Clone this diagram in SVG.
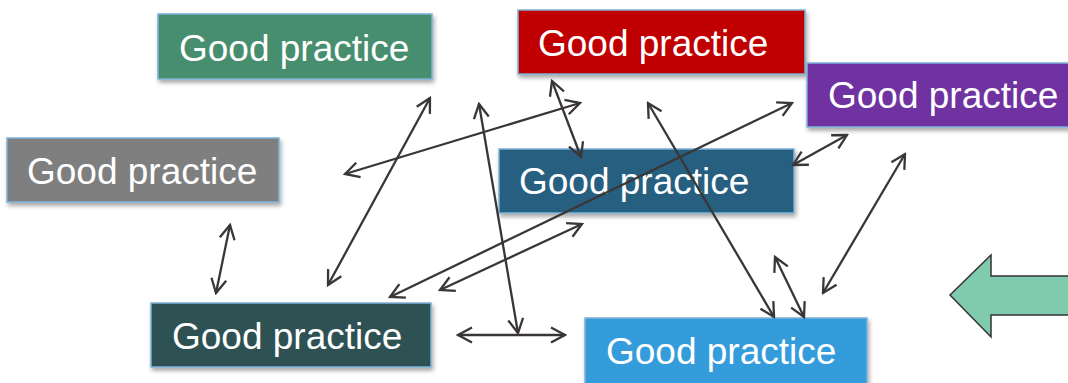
<svg xmlns="http://www.w3.org/2000/svg" width="1068" height="383" viewBox="0 0 1068 383">
<defs>
<filter id="sh" x="-10%" y="-20%" width="130%" height="160%">
<feDropShadow dx="1.5" dy="3" stdDeviation="2" flood-color="#000" flood-opacity="0.35"/>
</filter>
<marker id="ah" viewBox="-16 -10 18 20" refX="0" refY="0" markerWidth="18" markerHeight="20" markerUnits="userSpaceOnUse" orient="auto-start-reverse">
<path d="M-14,-7.5 L0,0 L-14,7.5" fill="none" stroke="#3A3636" stroke-width="2.3"/>
</marker>
</defs>
<style>
.box{stroke:#7DB3D8;stroke-width:1.5;filter:url(#sh)}
.lbl{fill:#fff;font-family:"Liberation Sans",Arial,sans-serif;font-size:37px}
.con line{stroke:#3A3636;stroke-width:2.3;fill:none;marker-start:url(#ah);marker-end:url(#ah)}
</style>
<rect width="1068" height="383" fill="#fff"/>
<g id="node-green"><rect class="box" x="158" y="14" width="274" height="65" fill="#468E6E"/><text class="lbl" x="179" y="61">Good practice</text></g>
<g id="node-red"><rect class="box" x="518" y="10" width="287" height="64" fill="#C00000"/><text class="lbl" x="538" y="56">Good practice</text></g>
<g id="node-purple"><rect class="box" x="807" y="63" width="275" height="64" fill="#7030A0"/><text class="lbl" x="828" y="108">Good practice</text></g>
<g id="node-gray"><rect class="box" x="7" y="138" width="272" height="64" fill="#7F7F7F"/><text class="lbl" x="27" y="184">Good practice</text></g>
<g id="node-darkblue"><rect class="box" x="499" y="149" width="295" height="64" fill="#255E80"/><text class="lbl" x="519" y="194">Good practice</text></g>
<g id="node-teal"><rect class="box" x="151" y="303" width="280" height="64" fill="#2F5152"/><text class="lbl" x="172" y="349">Good practice</text></g>
<g id="node-lightblue"><rect class="box" x="585" y="318" width="282" height="72" fill="#359CDC"/><text class="lbl" x="606" y="364">Good practice</text></g>
<g id="big-arrow"><polygon points="950,295 991,255 991,276 1075,276 1075,315 991,315 991,337" fill="#80CBAD" stroke="#333" stroke-width="1.5"/></g>
<g id="connectors" class="con">
<line x1="328" y1="285" x2="430" y2="98"/>
<line x1="345" y1="174" x2="580" y2="103"/>
<line x1="479" y1="104" x2="518" y2="333"/>
<line x1="458" y1="335" x2="565" y2="335"/>
<line x1="552" y1="81" x2="581" y2="157"/>
<line x1="390" y1="297" x2="792" y2="103"/>
<line x1="440" y1="290" x2="582" y2="224"/>
<line x1="793" y1="165" x2="847" y2="135"/>
<line x1="230" y1="225" x2="216" y2="293"/>
<line x1="648" y1="103" x2="774" y2="317"/>
<line x1="775" y1="257" x2="804" y2="317"/>
<line x1="823" y1="293" x2="905" y2="154"/>
</g>
</svg>
